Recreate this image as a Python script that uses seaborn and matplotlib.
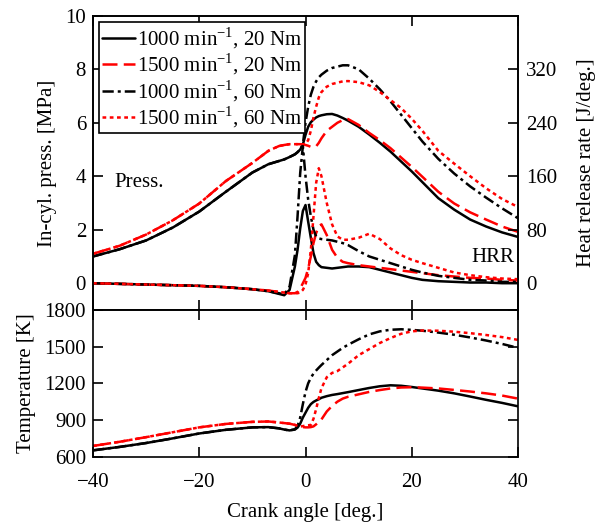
import numpy as np
import pandas as pd
import seaborn as sns
import matplotlib.pyplot as plt

# crank angle grid [deg.]
angle = [-40, -35, -30, -25, -20, -15, -10, -7, -5, -4, -3, -2, -1.5, -1, -0.5,
         0, 0.5, 1, 1.5, 2, 2.5, 3, 4, 5, 6, 7, 8, 10, 12, 14, 16, 18, 20, 22,
         25, 28, 31, 34, 37, 40]

labels = ["1000 min$^{\\mathrm{-1}}$, 20 Nm", "1500 min$^{\\mathrm{-1}}$, 20 Nm",
          "1000 min$^{\\mathrm{-1}}$, 60 Nm", "1500 min$^{\\mathrm{-1}}$, 60 Nm"]

# in-cylinder pressure [MPa]
p_1000_20 = [1.00, 1.27, 1.60, 2.08, 2.68, 3.42, 4.14, 4.45, 4.57, 4.63, 4.72, 4.82,
             4.90, 5.00, 5.19, 5.55, 5.85, 6.02, 6.12, 6.20, 6.25, 6.28, 6.32, 6.33,
             6.27, 6.18, 6.08, 5.85, 5.56, 5.25, 4.92, 4.55, 4.18, 3.78, 3.18, 2.75,
             2.38, 2.12, 1.90, 1.73]
p_1500_20 = [1.10, 1.40, 1.82, 2.35, 2.98, 3.82, 4.50, 4.95, 5.13, 5.17, 5.20, 5.20,
             5.20, 5.20, 5.19, 5.17, 5.14, 5.10, 5.10, 5.12, 5.25, 5.42, 5.70, 5.85,
             6.00, 6.10, 6.14, 5.92, 5.62, 5.35, 5.05, 4.70, 4.35, 3.98, 3.42, 2.98,
             2.65, 2.38, 2.12, 1.92]
p_1000_60 = [1.00, 1.27, 1.60, 2.08, 2.68, 3.42, 4.14, 4.45, 4.57, 4.63, 4.72, 4.82,
             4.90, 5.00, 5.19, 6.00, 6.60, 7.05, 7.35, 7.55, 7.70, 7.80, 7.95, 8.05,
             8.10, 8.15, 8.15, 8.00, 7.65, 7.25, 6.80, 6.30, 5.80, 5.30, 4.65, 4.10,
             3.62, 3.20, 2.80, 2.43]
p_1500_60 = [1.10, 1.40, 1.82, 2.35, 2.98, 3.82, 4.50, 4.95, 5.13, 5.17, 5.20, 5.20,
             5.20, 5.20, 5.19, 5.20, 5.35, 5.70, 6.20, 6.60, 6.95, 7.15, 7.35, 7.45,
             7.50, 7.55, 7.56, 7.52, 7.40, 7.15, 6.85, 6.55, 6.15, 5.70, 4.95, 4.47,
             4.00, 3.55, 3.15, 2.85]

# heat release rate [J/deg.]
h_1000_20 = [0, -1, -2, -3, -4, -6, -9, -12, -16, -18, -10, 25, 50, 82, 108, 117, 92,
             68, 45, 32, 27, 24, 23, 22, 23, 24, 25, 25, 24, 20, 16, 12, 8, 5, 3, 2,
             1, 1, 0, 0]
h_1500_20 = [0, -1, -2, -3, -4, -6, -9, -11, -13, -14, -15, -15, -13, -8, 0, 8, 22,
             40, 60, 75, 85, 88, 72, 50, 38, 32, 30, 27, 25, 23, 21, 19, 17, 15, 12,
             10, 8, 7, 5, 4]
h_1000_60 = [0, -1, -2, -3, -4, -6, -9, -12, -15, -17, -5, 42, 100, 165, 205, 160,
             125, 100, 80, 70, 67, 66, 65, 64, 62, 60, 57, 48, 40, 35, 30, 25, 20, 16,
             11, 8, 5, 4, 2, 2]
h_1500_60 = [0, -1, -2, -3, -4, -6, -9, -11, -13, -14, -15, -15, -15, -14, -10, -2,
             15, 50, 100, 150, 172, 160, 120, 88, 70, 65, 65, 68, 74, 66, 52, 42, 35,
             30, 23, 16, 12, 9, 7, 6]

# in-cylinder temperature [K]
t_1000_20 = [652, 680, 712, 750, 790, 820, 840, 842, 832, 822, 815, 822, 838, 870,
             920, 960, 1000, 1030, 1048, 1060, 1070, 1082, 1095, 1105, 1112, 1120,
             1128, 1145, 1162, 1176, 1184, 1180, 1170, 1158, 1140, 1118, 1092, 1065,
             1040, 1012]
t_1500_20 = [688, 722, 760, 800, 840, 868, 885, 888, 880, 875, 870, 860, 852, 845,
             842, 840, 840, 842, 848, 865, 885, 905, 970, 1015, 1050, 1075, 1090,
             1110, 1130, 1145, 1158, 1166, 1168, 1165, 1158, 1146, 1133, 1118, 1100,
             1075]
t_1000_60 = [652, 680, 712, 750, 790, 820, 840, 842, 832, 822, 815, 825, 850, 920,
             1030, 1130, 1200, 1245, 1280, 1305, 1328, 1350, 1390, 1430, 1460, 1490,
             1515, 1560, 1600, 1625, 1638, 1642, 1637, 1630, 1615, 1597, 1575, 1550,
             1522, 1490]
t_1500_60 = [688, 722, 760, 800, 840, 868, 885, 888, 880, 875, 870, 860, 852, 847,
             850, 855, 857, 860, 910, 990, 1080, 1160, 1250, 1285, 1300, 1330, 1360,
             1430, 1480, 1530, 1570, 1605, 1625, 1632, 1630, 1622, 1610, 1595, 1578,
             1555]

colors = ["black", "#ff0000", "black", "#ff0000"]
styles = ["-", (0, (6, 2.5)), (0, (4.5, 1.6, 1.2, 1.6)), (0, (1.5, 1.4))]

sns.set_style("ticks")
plt.rcParams["font.family"] = ["Liberation Serif", "DejaVu Serif"]
plt.rcParams["mathtext.fontset"] = "custom"
plt.rcParams["mathtext.rm"] = "Liberation Serif"
plt.rcParams["font.size"] = 15
plt.rcParams["axes.linewidth"] = 1.2
for key in ["axes.edgecolor", "axes.labelcolor", "text.color",
            "xtick.color", "ytick.color"]:
    plt.rcParams[key] = "black"

fig = plt.figure(figsize=(6.08, 5.28), dpi=100)
ax_p = fig.add_axes([0.153, 0.413, 0.699, 0.557])
ax_t = fig.add_axes([0.153, 0.135, 0.699, 0.278])
ax_h = ax_p.twinx()

pressures = [p_1000_20, p_1500_20, p_1000_60, p_1500_60]
hrrs = [h_1000_20, h_1500_20, h_1000_60, h_1500_60]
temps = [t_1000_20, t_1500_20, t_1000_60, t_1500_60]

handles = []
for i in range(4):
    sns.lineplot(x=angle, y=pressures[i], ax=ax_p, color=colors[i],
                 linestyle=styles[i], lw=1.8, estimator=None, sort=False)
    handles.append(ax_p.lines[-1])
    sns.lineplot(x=angle, y=hrrs[i], ax=ax_h, color=colors[i],
                 linestyle=styles[i], lw=1.8, estimator=None, sort=False)
    sns.lineplot(x=angle, y=temps[i], ax=ax_t, color=colors[i],
                 linestyle=styles[i], lw=1.8, estimator=None, sort=False)

for ax in (ax_p, ax_t):
    ax.set_xlim(-40, 40)
    ax.set_xticks([-40, -20, 0, 20, 40])
    ax.tick_params(direction="in", length=7, width=1.2, top=True)
    ax.tick_params(axis="x", pad=12)
    ax.tick_params(axis="y", pad=5)

ax_p.set_ylim(-1, 10)
ax_p.set_yticks([0, 2, 4, 6, 8, 10])
ax_p.tick_params(labelbottom=False)
ax_p.set_ylabel("In-cyl. press. [MPa]", labelpad=6)

ax_h.set_ylim(-40, 400)
ax_h.set_yticks([0, 80, 160, 240, 320])
ax_h.tick_params(direction="in", length=7, width=1.2, pad=6)
ax_h.set_ylabel("Heat release rate [J/deg.]", labelpad=14)

ax_t.set_ylim(600, 1800)
ax_t.set_yticks([600, 900, 1200, 1500, 1800])
ax_t.tick_params(right=True)
ax_t.set_ylabel("Temperature [K]", labelpad=6)
ax_t.set_xlabel("Crank angle [deg.]", labelpad=8)

ax_p.text(-36, 3.75, "Press.", ha="left", va="center")
ax_p.text(39.2, 0.95, "HRR", ha="right", va="center")

leg = ax_h.legend(handles, labels, loc="upper left", frameon=True, fancybox=False,
                  framealpha=1, edgecolor="black", fontsize=15, handlelength=1.55,
                  handletextpad=0.1, labelspacing=0.05, borderpad=0.15,
                  borderaxespad=0.3)
leg.get_frame().set_linewidth(1.2)

fig.savefig("out.png", dpi=100)
